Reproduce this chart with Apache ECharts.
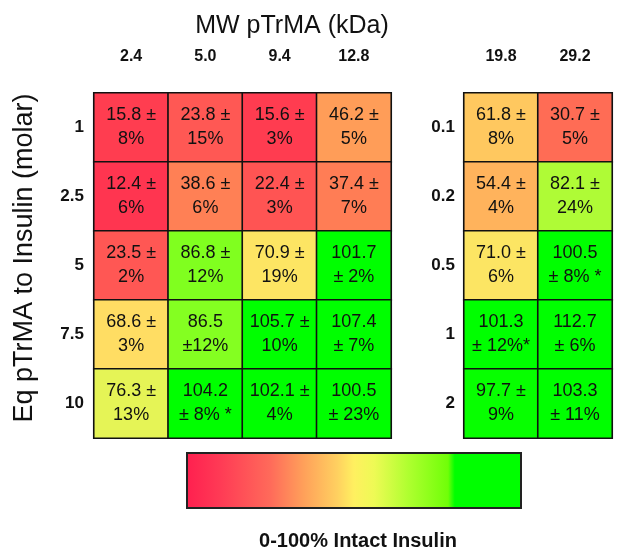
<!DOCTYPE html>
<html><head><meta charset="utf-8">
<script src="https://cdn.jsdelivr.net/npm/echarts@6/dist/echarts.min.js"></script>
<style>html,body{margin:0;padding:0;background:#fff}#c{width:618px;height:554px}</style>
</head><body><div id="c"></div>
<script>
const colsA = ['2.4', '5.0', '9.4', '12.8'];
const rowsA = ['1', '2.5', '5', '7.5', '10'];
const colsB = ['19.8', '29.2'];
const rowsB = ['0.1', '0.2', '0.5', '1', '2'];
// values per row (top to bottom), per column (left to right)
const valuesA = [
  [15.8, 23.8, 15.6, 46.2],
  [12.4, 38.6, 22.4, 37.4],
  [23.5, 86.8, 70.9, 101.7],
  [68.6, 86.5, 105.7, 107.4],
  [76.3, 104.2, 102.1, 100.5]
];
const labelsA = [
  ['15.8 ±\n8%', '23.8 ±\n15%', '15.6 ±\n3%', '46.2 ±\n5%'],
  ['12.4 ±\n6%', '38.6 ±\n6%', '22.4 ±\n3%', '37.4 ±\n7%'],
  ['23.5 ±\n2%', '86.8 ±\n12%', '70.9 ±\n19%', '101.7\n± 2%'],
  ['68.6 ±\n3%', '86.5\n±12%', '105.7 ±\n10%', '107.4\n± 7%'],
  ['76.3 ±\n13%', '104.2\n± 8% *', '102.1 ±\n4%', '100.5\n± 23%']
];
const valuesB = [
  [61.8, 30.7],
  [54.4, 82.1],
  [71.0, 100.5],
  [101.3, 112.7],
  [97.7, 103.3]
];
const labelsB = [
  ['61.8 ±\n8%', '30.7 ±\n5%'],
  ['54.4 ±\n4%', '82.1 ±\n24%'],
  ['71.0 ±\n6%', '100.5\n± 8% *'],
  ['101.3\n± 12%*', '112.7\n± 6%'],
  ['97.7 ±\n9%', '103.3\n± 11%']
];
const colorStops = ['#ff1a4d','#ff2550','#ff3050','#ff3a50','#ff4c52','#ff5c55','#ff6a55','#ff7655','#ff8455','#ff9a58','#ffa85a','#ffb45c','#ffc45e','#ffd060','#ffe264','#f2f25e','#c0f840','#98ff28','#55ff10','#10ff00','#00ff00'];
const barStops = [[0,'#ff1f4f'],[0.1,'#ff3a55'],[0.25,'#ff6a5a'],[0.35,'#ffa05a'],[0.45,'#ffd060'],[0.5,'#fff060'],[0.56,'#eefa55'],[0.66,'#b0ff30'],[0.78,'#70ff08'],[0.8,'#00ff00'],[1,'#00ff00']];

function build(vals, labs) {
  const out = [];
  vals.forEach((row, r) => row.forEach((v, c) => out.push([c, r, v, labs[r][c]])));
  return out;
}
const FF = '"Liberation Sans", Arial, sans-serif';
const chart = echarts.init(document.getElementById('c'));
const xAx = (cats, gi) => ({
  type: 'category', data: cats, gridIndex: gi, position: 'top',
  axisLine: {show: false}, axisTick: {show: false}, splitLine: {show: false},
  axisLabel: {fontFamily: FF, fontWeight: 'bold', fontSize: 16, color: '#111', margin: 28}
});
const yAx = (cats, gi, m) => ({
  type: 'category', data: cats, gridIndex: gi, inverse: true,
  axisLine: {show: false}, axisTick: {show: false}, splitLine: {show: false},
  axisLabel: {fontFamily: FF, fontWeight: 'bold', fontSize: 17, color: '#111', margin: m}
});
const series = (d, gi) => ({
  type: 'heatmap', xAxisIndex: gi, yAxisIndex: gi, data: d,
  itemStyle: {borderColor: '#111', borderWidth: 1.6},
  label: {show: true, formatter: p => p.value[3], fontFamily: FF, fontSize: 18, lineHeight: 24, color: '#111'},
  emphasis: {disabled: true}
});
chart.setOption({
  animation: false,
  backgroundColor: '#fff',
  grid: [
    {left: 94, top: 93, width: 297, height: 345},
    {left: 464, top: 93, width: 148, height: 345}
  ],
  xAxis: [xAx(colsA, 0), xAx(colsB, 1)],
  yAxis: [yAx(rowsA, 0, 10), yAx(rowsB, 1, 9)],
  visualMap: {
    type: 'continuous', show: false, min: 0, max: 100, seriesIndex: [0, 1], dimension: 2,
    inRange: {color: colorStops}
  },
  series: [series(build(valuesA, labelsA), 0), series(build(valuesB, labelsB), 1)],
  graphic: [
    {type: 'text', x: 292, y: 26, style: {text: 'MW pTrMA (kDa)', font: '25px ' + FF, fill: '#111', align: 'center', verticalAlign: 'middle'}},
    {type: 'text', x: 25, y: 258, rotation: Math.PI / 2, style: {text: 'Eq pTrMA to Insulin (molar)', font: '27px ' + FF, fill: '#111', align: 'center', verticalAlign: 'middle'}},
    {type: 'rect', shape: {x: 187, y: 453, width: 334, height: 55},
      style: {fill: new echarts.graphic.LinearGradient(0, 0, 1, 0, barStops.map(s => ({offset: s[0], color: s[1]}))), stroke: '#222', lineWidth: 2}},
    {type: 'text', x: 358, y: 541, style: {text: '0-100% Intact Insulin', font: 'bold 20px ' + FF, fill: '#111', align: 'center', verticalAlign: 'middle'}}
  ]
});
</script></body></html>
